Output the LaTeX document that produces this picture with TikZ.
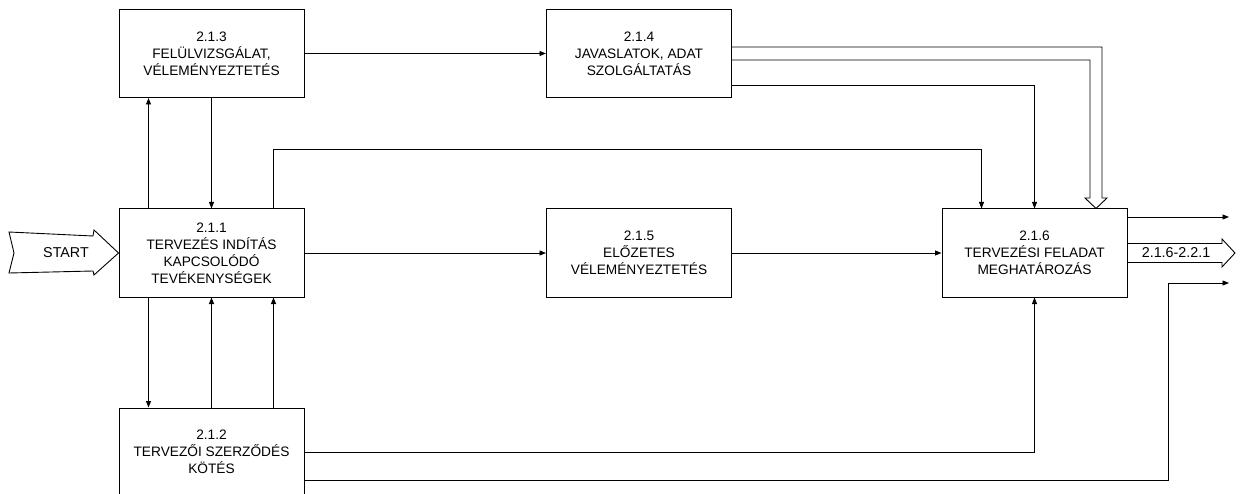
\documentclass[tikz,border=0pt]{standalone}
\usepackage{fontspec}
\setmainfont{Liberation Sans}
\usetikzlibrary{arrows.meta}
\tikzset{
  blokk/.style={draw,line width=1pt,minimum width=185pt,minimum height=88pt,inner sep=0pt,align=center,font=\fontsize{13.7}{17}\selectfont},
  nyil/.style={line width=0.9pt,-{Triangle[length=6.5pt,width=5pt]}},
  vonal/.style={line width=0.9pt},
  felirat/.style={inner sep=0pt,font=\fontsize{14.3}{17}\selectfont}
}
\begin{document}
\begin{tikzpicture}[x=1pt,y=-1pt]
\useasboundingbox (0,0) rectangle (1246,494);
\node[blokk] (b213) at (211.5,53.5) {2.1.3\\FELÜLVIZSGÁLAT,\\VÉLEMÉNYEZTETÉS};
\node[blokk] (b214) at (639,53.5) {2.1.4\\JAVASLATOK, ADAT\\SZOLGÁLTATÁS};
\node[blokk] (b211) at (211.5,253) {2.1.1\\TERVEZÉS INDÍTÁS\\KAPCSOLÓDÓ\\TEVÉKENYSÉGEK};
\node[blokk] (b215) at (639,253) {2.1.5\\ELŐZETES\\VÉLEMÉNYEZTETÉS};
\node[blokk] (b216) at (1034.5,253) {2.1.6\\TERVEZÉSI FELADAT\\MEGHATÁROZÁS};
\node[blokk] (b212) at (211.5,452) {2.1.2\\TERVEZŐI SZERZŐDÉS\\KÖTÉS};
\coordinate (ki1) at (1229,217);
\coordinate (ki3) at (1229,283);
\draw[vonal] (9,232) -- (93,236) -- (94,230) -- (b211.west) -- (94,275) -- (93,271) -- (9,273) -- (14,253) -- cycle;
\node[felirat] (start) at (66,253) {START};
\draw[nyil] (b213.east) -- (b214.west);
\draw[nyil] ([xshift=30pt]b211.north west) -- ([xshift=30pt]b213.south west);
\draw[nyil] (b213.south) -- (b211.north);
\draw[nyil] ([xshift=-31pt]b211.north east) -- ++(0,-59) -| ([xshift=40pt]b216.north west);
\draw[nyil] (b211) -- (b215);
\draw[nyil] (b215) -- (b216);
\draw[nyil] ([yshift=-31.5pt]b214.east) -| (b216.north);
\draw[vonal] ([yshift=6.5pt]b214.east) -- (1102,47) -- (1102,198) -- (1107,198) -- ([xshift=61.5pt]b216.north) -- (1085,198) -- (1090,198) -- (1090,60) -- ([yshift=-6.5pt]b214.east);
\draw[nyil] ([xshift=30pt]b211.south west) -- ([xshift=30pt]b212.north west);
\draw[nyil] (b212.north) -- (b211.south);
\draw[nyil] ([xshift=-31pt]b212.north east) -- ([xshift=-31pt]b211.south east);
\draw[nyil] (b212.east) -| (b216.south);
\draw[nyil] ([yshift=-28pt]b212.east) -| (1168,283) -- (ki3);
\draw[nyil] ([yshift=36pt]b216.east) -- (ki1);
\draw[vonal] ([yshift=9.5pt]b216.east) -- (1222,243.5) -- (1222,239) -- (1235,253) -- (1222,267) -- (1222,262.5) -- ([yshift=-9.5pt]b216.east);
\node[felirat] (kimenet) at (1176,253) {2.1.6-2.2.1};
\end{tikzpicture}
\end{document}
